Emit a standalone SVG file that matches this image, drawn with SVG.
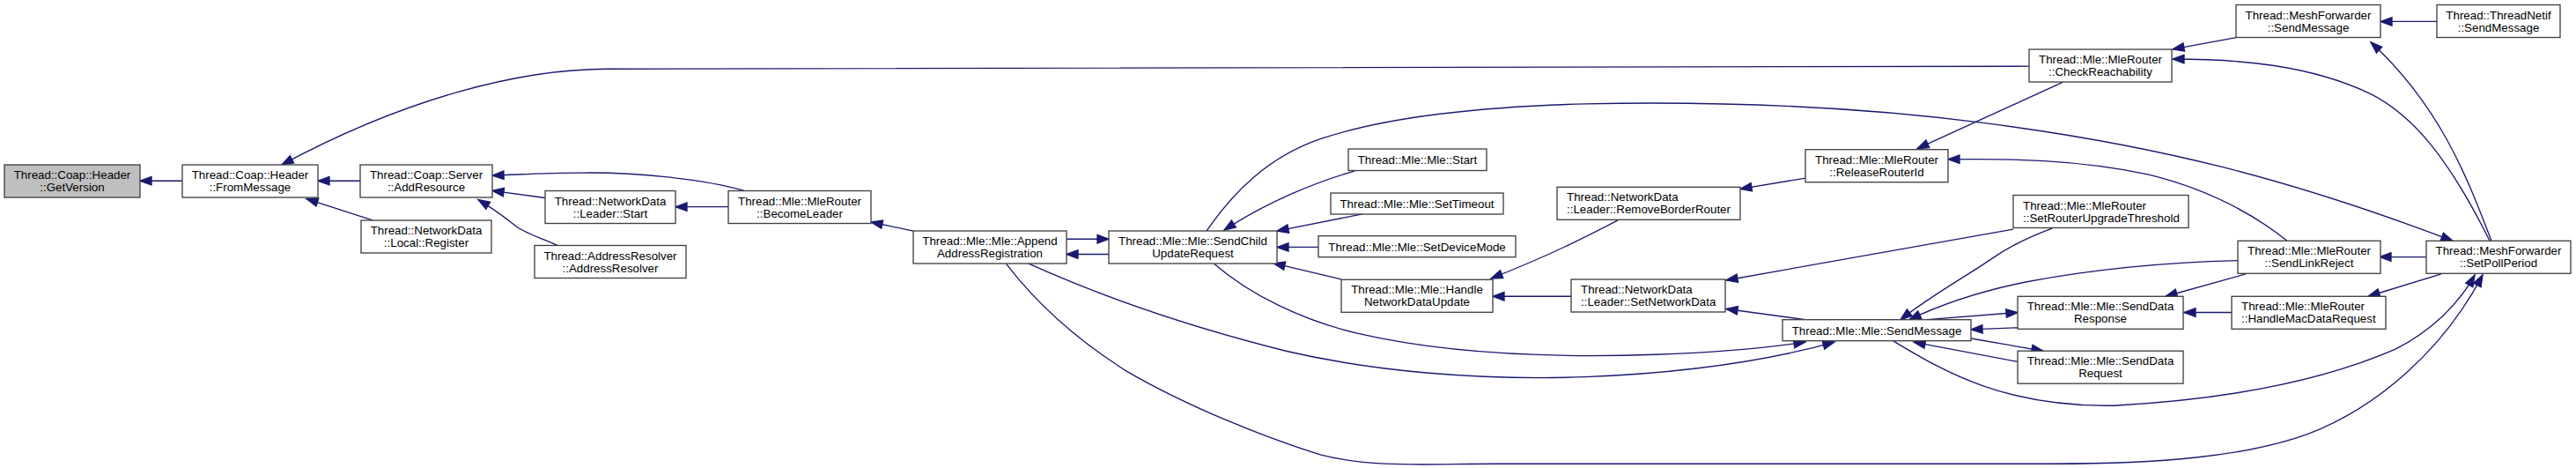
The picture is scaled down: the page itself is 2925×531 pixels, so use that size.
<svg xmlns="http://www.w3.org/2000/svg" width="2925" height="531" viewBox="0 0 2925 531">
<style>
.n rect{fill:#ffffff;stroke:#404040;stroke-width:1.33}
.n.g rect{fill:#bfbfbf}
.n text{font-family:"Liberation Sans",Arial,sans-serif;font-size:13.33px;fill:#000;text-anchor:middle}
.n text.l{text-anchor:start}
#edges path{fill:none;stroke:#191970;stroke-width:1.33;marker-end:url(#arr)}
</style>
<defs>
<marker id="arr" markerUnits="userSpaceOnUse" markerWidth="16" markerHeight="12" refX="13" refY="4.67" orient="auto" overflow="visible">
<path d="M0,0 L13,4.67 L0,9.33 z" fill="#191970" stroke="#191970" stroke-width="1.33"/>
</marker>
</defs>
<rect width="2925" height="531" fill="#ffffff"/>
<g id="edges" transform="scale(1,1.0159)">
<path d="M207,202 L159,202"/>
<path d="M409,202 L361,202"/>
<path d="M2304,74 L690,77 C590,77 460,110 320,184"/>
<path d="M423,246 L348,222"/>
<path d="M845,213 C800,200 720,192 660,193 C620,193 590,195 559,196"/>
<path d="M619,221 L559,213"/>
<path d="M633,274 C610,264 595,260 585,252 C570,240 560,233 543,223"/>
<path d="M827,231 L767,231"/>
<path d="M1037,258 L989,248"/>
<path d="M1211,267 L1259,267"/>
<path d="M1259,284 L1211,284"/>
<path d="M1538,191 C1495,203 1440,225 1390,257"/>
<path d="M1547,239 L1450,258"/>
<path d="M1497,276 L1450,276"/>
<path d="M1523,312 L1446,294"/>
<path d="M1370,258 C1400,215 1440,175 1500,155 C1560,135 1650,120 1800,116 C1950,113 2100,118 2250,137 C2450,162 2600,200 2785,269"/>
<path d="M1378,294 C1420,330 1480,358 1540,372 C1640,395 1760,400 1880,396 C1960,393 2010,388 2050,382"/>
<path d="M1167,294 C1230,322 1330,360 1460,392 C1560,415 1680,425 1800,421 C1900,417 2000,405 2083,382"/>
<path d="M1142,294 C1170,330 1215,375 1280,415 C1350,455 1440,490 1500,508 C1560,523 1620,518 1700,518 L2330,518 C2450,518 2550,510 2620,485 C2700,455 2775,390 2819,307"/>
<path d="M1784,331 L1695,331"/>
<path d="M1837,246 C1800,265 1760,285 1693,311"/>
<path d="M2050,199 L1976,211"/>
<path d="M2342,92 L2177,166"/>
<path d="M2597,269 C2560,240 2510,212 2440,195 C2360,178 2280,177 2212,178"/>
<path d="M2286,256 L1960,313"/>
<path d="M2050,357 L1960,345"/>
<path d="M2330,255 C2300,266 2280,276 2260,290 C2230,310 2190,332 2158,357"/>
<path d="M2541,291 C2460,293 2380,300 2300,315 C2240,327 2200,342 2168,357"/>
<path d="M2188,357 L2291,349"/>
<path d="M2291,366 L2238,368"/>
<path d="M2238,378 L2320,392"/>
<path d="M2291,404 L2173,382"/>
<path d="M2150,381 C2200,410 2270,455 2400,453 C2550,445 2650,420 2720,390 C2760,370 2792,340 2810,307"/>
<path d="M2550,306 L2459,331"/>
<path d="M2534,349 L2480,349"/>
<path d="M2772,306 L2689,331"/>
<path d="M2755,287 L2702,287"/>
<path d="M2539,42 L2467,55"/>
<path d="M2827,269 C2782,180 2742,130 2692,105 C2622,72 2540,66 2467,66"/>
<path d="M2829,269 C2802,200 2772,120 2692,47"/>
<path d="M2767,24 L2703,24"/>
</g>
<g id="n_getversion" class="n g"><rect x="5" y="187" width="154" height="37"/><text x="82" y="203">Thread::Coap::Header</text><text x="82" y="217">::GetVersion</text></g>
<g id="n_frommessage" class="n"><rect x="207" y="187" width="154" height="37"/><text x="284" y="203">Thread::Coap::Header</text><text x="284" y="217">::FromMessage</text></g>
<g id="n_addresource" class="n"><rect x="409" y="187" width="150" height="37"/><text x="484" y="203">Thread::Coap::Server</text><text x="484" y="217">::AddResource</text></g>
<g id="n_localregister" class="n"><rect x="410" y="250" width="148" height="37"/><text x="484" y="266">Thread::NetworkData</text><text x="484" y="280">::Local::Register</text></g>
<g id="n_leaderstart" class="n"><rect x="619" y="216.5" width="148" height="37"/><text x="693" y="232.5">Thread::NetworkData</text><text x="693" y="246.5">::Leader::Start</text></g>
<g id="n_addrresolver" class="n"><rect x="607" y="278.5" width="172" height="37"/><text x="693" y="294.5">Thread::AddressResolver</text><text x="693" y="308.5">::AddressResolver</text></g>
<g id="n_becomeleader" class="n"><rect x="827" y="216.5" width="162" height="37"/><text x="908" y="232.5">Thread::Mle::MleRouter</text><text x="908" y="246.5">::BecomeLeader</text></g>
<g id="n_append" class="n"><rect x="1037" y="262" width="174" height="37"/><text x="1124" y="278">Thread::Mle::Mle::Append</text><text x="1124" y="292">AddressRegistration</text></g>
<g id="n_sendchild" class="n"><rect x="1259" y="262" width="191" height="37"/><text x="1354.5" y="278">Thread::Mle::Mle::SendChild</text><text x="1354.5" y="292">UpdateRequest</text></g>
<g id="n_mlestart" class="n"><rect x="1531" y="169" width="157" height="24.5"/><text x="1609.5" y="186">Thread::Mle::Mle::Start</text></g>
<g id="n_settimeout" class="n"><rect x="1511" y="219" width="196" height="24"/><text x="1609" y="235.8">Thread::Mle::Mle::SetTimeout</text></g>
<g id="n_setdevicemode" class="n"><rect x="1497" y="267.7" width="224" height="24"/><text x="1609" y="284.5">Thread::Mle::Mle::SetDeviceMode</text></g>
<g id="n_handlenet" class="n"><rect x="1523" y="317.3" width="172" height="37"/><text x="1609" y="333.3">Thread::Mle::Mle::Handle</text><text x="1609" y="347.3">NetworkDataUpdate</text></g>
<g id="n_removeborder" class="n"><rect x="1768" y="212.3" width="208" height="37"/><text class="l" x="1779" y="228.3">Thread::NetworkData</text><text class="l" x="1779" y="242.3">::Leader::RemoveBorderRouter</text></g>
<g id="n_setnetdata" class="n"><rect x="1784" y="317" width="175" height="37"/><text class="l" x="1795" y="333">Thread::NetworkData</text><text class="l" x="1795" y="347">::Leader::SetNetworkData</text></g>
<g id="n_checkreach" class="n"><rect x="2304" y="56" width="162" height="37"/><text x="2385" y="72">Thread::Mle::MleRouter</text><text x="2385" y="86">::CheckReachability</text></g>
<g id="n_releaserouter" class="n"><rect x="2050" y="169.7" width="162" height="37"/><text x="2131" y="185.7">Thread::Mle::MleRouter</text><text x="2131" y="199.7">::ReleaseRouterId</text></g>
<g id="n_setrouterupg" class="n"><rect x="2286" y="221.5" width="199" height="37"/><text class="l" x="2297" y="237.5">Thread::Mle::MleRouter</text><text class="l" x="2297" y="251.5">::SetRouterUpgradeThreshold</text></g>
<g id="n_sendmessage" class="n"><rect x="2024" y="362.7" width="214" height="24"/><text x="2131" y="379.5">Thread::Mle::Mle::SendMessage</text></g>
<g id="n_senddataresp" class="n"><rect x="2291" y="336.3" width="188" height="37"/><text x="2385" y="352.3">Thread::Mle::Mle::SendData</text><text x="2385" y="366.3">Response</text></g>
<g id="n_senddatareq" class="n"><rect x="2291" y="398.2" width="188" height="37"/><text x="2385" y="414.2">Thread::Mle::Mle::SendData</text><text x="2385" y="428.2">Request</text></g>
<g id="n_meshsend" class="n"><rect x="2539" y="5.5" width="164" height="37"/><text x="2621" y="21.5">Thread::MeshForwarder</text><text x="2621" y="35.5">::SendMessage</text></g>
<g id="n_netifsend" class="n"><rect x="2767" y="5.5" width="140" height="37"/><text x="2837" y="21.5">Thread::ThreadNetif</text><text x="2837" y="35.5">::SendMessage</text></g>
<g id="n_sendlinkreject" class="n"><rect x="2541" y="273.3" width="162" height="37"/><text x="2622" y="289.3">Thread::Mle::MleRouter</text><text x="2622" y="303.3">::SendLinkReject</text></g>
<g id="n_handlemac" class="n"><rect x="2534" y="336.3" width="175" height="37"/><text class="l" x="2545" y="352.3">Thread::Mle::MleRouter</text><text class="l" x="2545" y="366.3">::HandleMacDataRequest</text></g>
<g id="n_setpoll" class="n"><rect x="2755" y="273.3" width="164" height="37"/><text x="2837" y="289.3">Thread::MeshForwarder</text><text x="2837" y="303.3">::SetPollPeriod</text></g>
</svg>
